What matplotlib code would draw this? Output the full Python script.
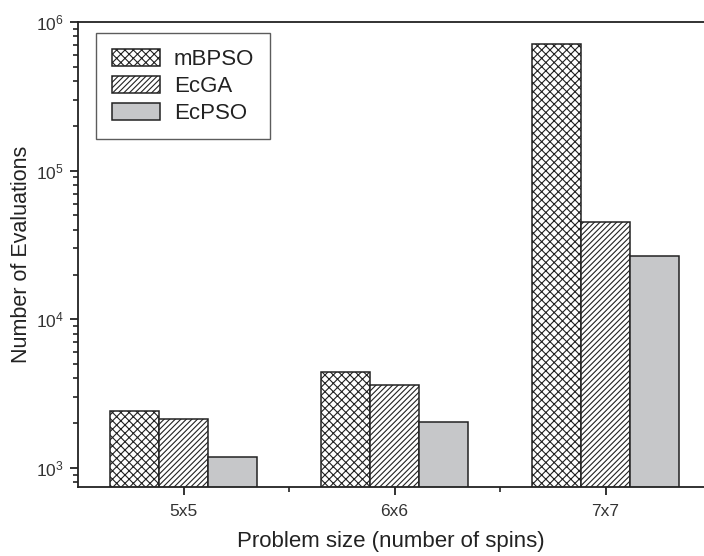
import matplotlib
matplotlib.use("Agg")
import matplotlib.pyplot as plt
import numpy as np
from matplotlib.ticker import LogLocator, NullFormatter

plt.rcParams['font.family'] = ['Liberation Sans', 'DejaVu Sans']
plt.rcParams['hatch.linewidth'] = 0.8
plt.rcParams['mathtext.fontset'] = 'custom'
plt.rcParams['mathtext.rm'] = 'Liberation Sans'
plt.rcParams['mathtext.it'] = 'Liberation Sans'

categories = ['5x5', '6x6', '7x7']
series_names = ['mBPSO', 'EcGA', 'EcPSO']
mbpso = [2430, 4450, 715000]
ecga = [2140, 3640, 45200]
ecpso = [1190, 2050, 26700]

values = [mbpso, ecga, ecpso]
hatches = ['xxxx', '//////', None]
faces = ['white', 'white', '#c6c7c9']

fig = plt.figure(figsize=(7.04, 5.56), dpi=100)
W, H = 704, 556
ax = fig.add_axes([78 / W, (H - 487) / H, (704 - 78) / W, (487 - 22) / H])

x = np.arange(1, len(categories) + 1)
bw = 0.233
edge = '#222222'
for i, (vals, h, fc, name) in enumerate(zip(values, hatches, faces, series_names)):
    ax.bar(x + (i - 1) * bw, vals, width=bw, bottom=1, color=fc, hatch=h,
           edgecolor=edge, linewidth=1.1, label=name, zorder=2)

ax.set_yscale('log')
ax.set_ylim(745, 1e6)
ax.set_xlim(0.5, 0.5 + (704 - 78) / 211)
ax.set_xticks(x)
ax.set_xticklabels(categories)
ax.set_xticks([1.5, 2.5], minor=True)
ax.yaxis.set_major_locator(LogLocator(base=10, numticks=10))
ax.yaxis.set_minor_locator(LogLocator(base=10, subs=np.arange(2, 10), numticks=20))
ax.yaxis.set_minor_formatter(NullFormatter())

for s in ['left', 'bottom', 'top']:
    ax.spines[s].set_linewidth(1.3)
    ax.spines[s].set_color('#222222')
ax.spines['right'].set_visible(False)

ax.tick_params(axis='both', which='major', direction='out', length=6, width=1.3,
               labelsize=12.5, colors='#222222', labelcolor='#333333')
ax.tick_params(axis='both', which='minor', direction='out', length=3.5, width=1.2,
               colors='#222222')
ax.tick_params(axis='x', which='major', pad=6)
ax.tick_params(axis='y', which='major', pad=4)

ax.set_xlabel('Problem size (number of spins)', fontsize=16, color='#222222', labelpad=9)
ax.set_ylabel('Number of Evaluations', fontsize=15.5, color='#222222', labelpad=3)

leg = ax.legend(loc='upper left', bbox_to_anchor=(18 / 626, 1 - 11 / 465),
                fontsize=16, frameon=True, fancybox=False, borderpad=0.7,
                handlelength=2.2, handleheight=0.8, handletextpad=0.6,
                labelspacing=0.26, borderaxespad=0)
leg.get_frame().set_edgecolor('#333333')
leg.get_frame().set_linewidth(1.0)
for t in leg.get_texts():
    t.set_color('#222222')

fig.savefig('out.png', dpi=100)
